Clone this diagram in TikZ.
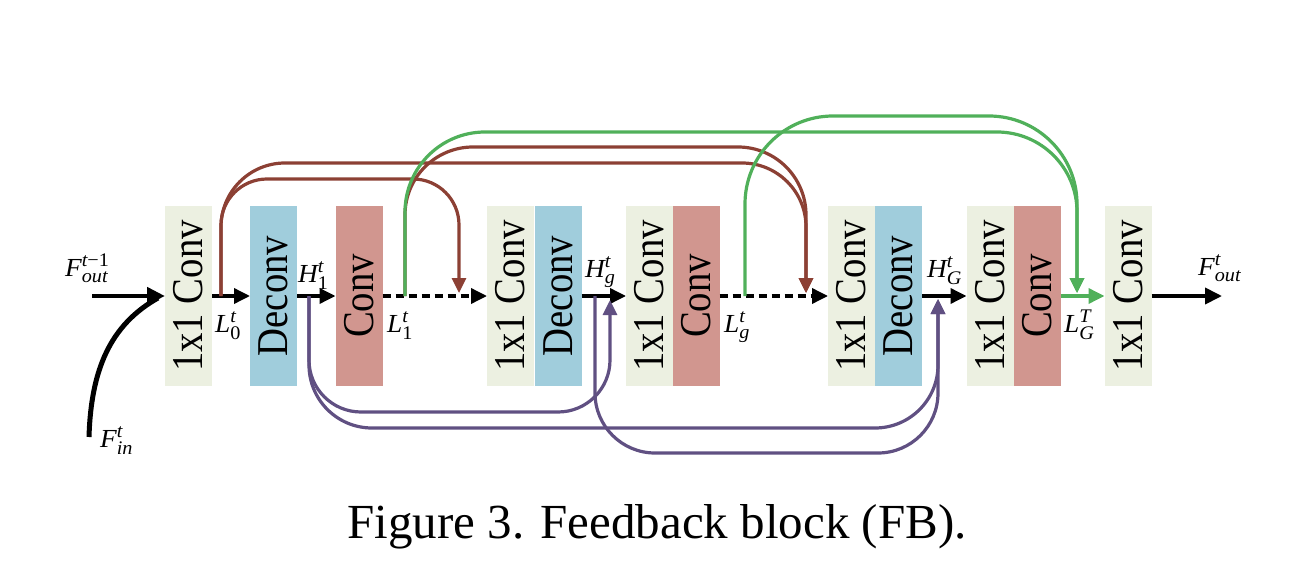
\documentclass[tikz,border=0pt]{standalone}
\usepackage{fontspec}
\setmainfont{Liberation Serif}
\usepackage{amsmath}
\renewcommand\defaultscriptratio{.74}
\usetikzlibrary{arrows.meta}
\definecolor{cgreenbox}{RGB}{236,240,225}
\definecolor{cbluebox}{RGB}{160,205,220}
\definecolor{credbox}{RGB}{209,150,143}
\definecolor{cbrown}{RGB}{140,64,52}
\definecolor{cgreen}{RGB}{80,176,90}
\definecolor{cpurple}{RGB}{96,80,130}
\newcommand\boxtxt[1]{\rotatebox{90}{\scalebox{0.88}[1]{\fontsize{44}{44}\selectfont #1}}}
\newcommand\lbl[3]{\scalebox{1.05}[1]{\fontsize{26}{26}\selectfont $\textit{#1}^{#2}_{#3}$}}
\tikzset{
  blk/.style={minimum width=47pt, minimum height=180pt, inner sep=0pt, outer sep=0pt},
  cb/.style={blk, fill=cgreenbox},
  db/.style={blk, fill=cbluebox},
  rb/.style={blk, fill=credbox},
  flow/.style={line width=3.5pt, -{Triangle[length=16pt,width=15pt]}},
  dflow/.style={flow, dash pattern=on 8pt off 5pt},
  brn/.style={cbrown, line width=3.2pt, -{Triangle[length=15pt,width=14pt]}},
  grn/.style={cgreen, line width=3.2pt, -{Triangle[length=15pt,width=14pt]}},
  prp/.style={cpurple, line width=3.2pt, -{Triangle[length=15pt,width=14pt]}},
  lab/.style={inner sep=0pt, anchor=base west}
}
\begin{document}
\begin{tikzpicture}[x=1pt,y=-1pt]
\useasboundingbox (0,0) rectangle (1314,588);
% boxes
\node[cb] (b1) at (188.5,296) {\boxtxt{1x1 Conv}};
\node[db] (b2) at (273.5,296) {\boxtxt{Deconv}};
\node[rb] (b3) at (359,296) {\boxtxt{Conv}};
\node[cb] (b4a) at (510.5,296) {\boxtxt{1x1 Conv}};
\node[db] (b4b) at (558,296) {\boxtxt{Deconv}};
\node[cb] (b5a) at (649.5,296) {\boxtxt{1x1 Conv}};
\node[rb] (b5b) at (696,296) {\boxtxt{Conv}};
\node[cb] (b6a) at (851.5,296) {\boxtxt{1x1 Conv}};
\node[db] (b6b) at (898.5,296) {\boxtxt{Deconv}};
\node[cb] (b7a) at (990,296) {\boxtxt{1x1 Conv}};
\node[rb] (b7b) at (1037,296) {\boxtxt{Conv}};
\node[cb] (b8) at (1128,296) {\boxtxt{1x1 Conv}};
% coordinates
\coordinate (Fo) at (92,296);
\coordinate (Fi) at (89,437);
\coordinate (Fj) at (158,298);
\coordinate (Fend) at (1222,296);
\coordinate (L0) at (221,296);
\coordinate (H1) at (309,296);
\coordinate (L1) at (405,296);
\coordinate (Hg) at (595,296);
\coordinate (Lg) at (745,296);
\coordinate (tB1) at (459,293);
\coordinate (tB2) at (806,293);
\coordinate (tG) at (1077,293);
\coordinate (tP1) at (610,300);
\coordinate (tP2) at (938,299);
% main flow
\draw[line width=5pt] (Fi) .. controls (91,370) and (110,325) .. (Fj);
\draw[line width=4.5pt, -{Triangle[length=18pt,width=17pt]}] (Fo) -- (b1.west);
\draw[flow] (b1.east) -- (b2.west);
\draw[flow] (b2.east) -- (b3.west);
\draw[dflow] (b3.east) -- (b4a.west);
\draw[flow] (b4b.east) -- (b5a.west);
\draw[dflow] (b5b.east) -- (b6a.west);
\draw[flow] (b6b.east) -- (b7a.west);
\draw[flow, cgreen] (b7b.east) -- (b8.west);
\draw[flow, line width=3.8pt, -{Triangle[length=17pt,width=16pt]}] (b8.east) -- (Fend);
% purple (H)
\draw[prp, rounded corners=52pt] (H1) |- (610,412) -- (tP1);
\draw[prp, rounded corners=63pt] (H1) |- (938,428) -- (tP2);
\draw[prp, rounded corners=60pt] (Hg) |- (938,453) -- (tP2);
% brown (L to projection)
\draw[brn, rounded corners=46pt] (L0) |- (459,179) -- (tB1);
\draw[brn, rounded corners=64pt] (L0) |- (806,163) -- (tB2);
\draw[brn, rounded corners=68pt] (L1) |- (806,147) -- (tB2);
% green (L to output)
\draw[grn, rounded corners=80pt] (L1) |- (1077,132) -- (tG);
\draw[grn, rounded corners=88pt] (Lg) |- (1077,116) -- (tG);
% labels
\node[lab] (lF0) at (65,276) {\lbl{F}{\textit{t}\text{−1}}{\textit{out}}};
\node[lab] (lFin) at (100,447) {\lbl{F}{\textit{t}}{\textit{in}}};
\node[lab] (lL0) at (215,332) {\lbl{L}{\textit{t}}{\text{0}}};
\node[lab] (lH1) at (298,282) {\lbl{H}{\textit{t}}{\text{1}}};
\node[lab] (lL1) at (387,332) {\lbl{L}{\textit{t}}{\text{1}}};
\node[lab] (lHg) at (585,277) {\lbl{H}{\textit{t}}{\textit{g}}};
\node[lab] (lLg) at (724,332) {\lbl{L}{\textit{t}}{\textit{g}}};
\node[lab] (lHG) at (927,277) {\lbl{H}{\textit{t}}{\textit{G}}};
\node[lab] (lLG) at (1064,332) {\lbl{L}{\textit{T}}{\textit{G}}};
\node[lab] (lFo) at (1198,275) {\lbl{F}{\textit{t}}{\textit{out}}};
% caption
\node[anchor=base, inner sep=0pt] (cap) at (657,538) {\fontsize{49}{49}\selectfont Figure 3. Feedback block (FB).};
\end{tikzpicture}
\end{document}
